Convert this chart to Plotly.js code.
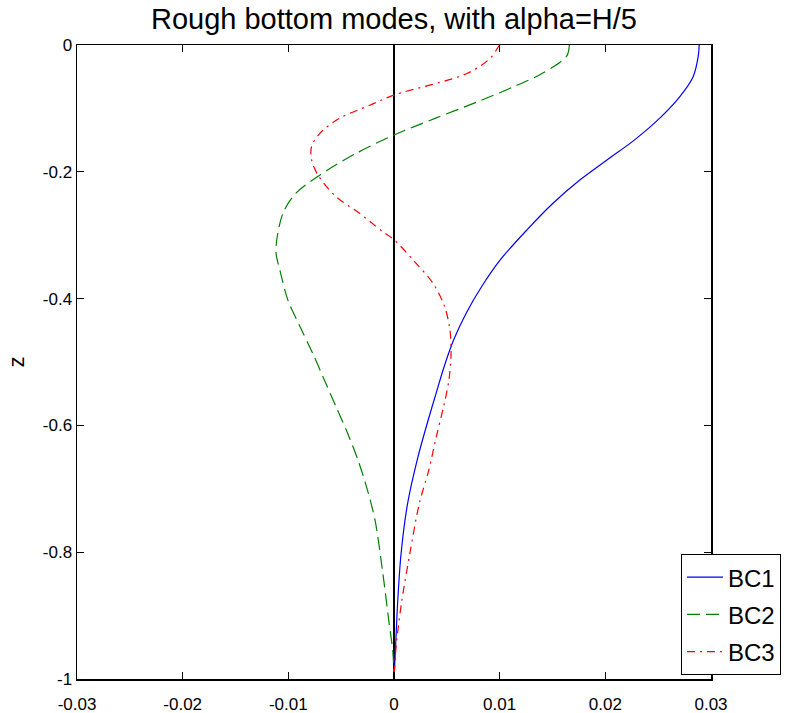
<!DOCTYPE html>
<html>
<head>
<meta charset="utf-8">
<script src="https://cdn.plot.ly/plotly-3.0.1.min.js"></script>
<style>html,body{margin:0;padding:0;background:#fff;}#chart{width:789px;height:713px;}</style>
</head>
<body>
<div id="chart"></div>
<script>
// Series names
const seriesNames = ["BC1", "BC2", "BC3"];

// BC1 (solid blue): depth z and amplitude
const bc1_z = [0, -0.018, -0.05, -0.0815, -0.113, -0.150, -0.181, -0.213, -0.250, -0.292, -0.339, -0.381, -0.423, -0.465, -0.507, -0.549, -0.597, -0.649, -0.723, -0.802, -0.881, -0.949, -1];
const bc1_x = [0.02888, 0.02879, 0.02831, 0.02705, 0.02530, 0.02274, 0.02018, 0.01758, 0.01502, 0.01256, 0.01005, 0.00830, 0.00683, 0.00565, 0.00475, 0.00399, 0.00314, 0.00228, 0.00129, 0.00067, 0.00034, 0.00015, 0];

// BC2 (dashed green)
const bc2_z = [0, -0.016, -0.026, -0.047, -0.066, -0.089, -0.115, -0.142, -0.171, -0.205, -0.234, -0.265, -0.308, -0.330, -0.355, -0.402, -0.444, -0.486, -0.528, -0.570, -0.612, -0.655, -0.697, -0.749, -0.828, -0.907, -0.959, -1];
const bc2_x = [0.0166, 0.0164, 0.0158, 0.0138, 0.0113, 0.0080, 0.0040, 0, -0.0036, -0.0070, -0.0093, -0.0105, -0.0111, -0.01115, -0.0108, -0.01005, -0.0089, -0.0077, -0.0066, -0.0055, -0.0044, -0.0034, -0.0026, -0.0018, -0.0011, -0.0005, -0.0001, 0];

// BC3 (dash-dot red)
const bc3_z = [0, -0.005, -0.021, -0.045, -0.079, -0.095, -0.116, -0.139, -0.160, -0.181, -0.205, -0.239, -0.265, -0.294, -0.307, -0.339, -0.376, -0.413, -0.450, -0.486, -0.528, -0.570, -0.618, -0.670, -0.723, -0.802, -0.881, -0.949, -1];
const bc3_x = [0.0100, 0.0098, 0.0091, 0.0069, 0, -0.0023, -0.0052, -0.0070, -0.0078, -0.0078, -0.0072, -0.0055, -0.0033, -0.0011, 0, 0.0018, 0.0037, 0.0048, 0.0053, 0.0054, 0.0052, 0.0047, 0.0040, 0.0033, 0.0024, 0.0015, 0.0007, 0.0002, 0];

// Axis ticks
const xTickVals = [-0.03, -0.02, -0.01, 0, 0.01, 0.02, 0.03];
const xTickText = ["-0.03", "-0.02", "-0.01", "0", "0.01", "0.02", "0.03"];
const yTickVals = [0, -0.2, -0.4, -0.6, -0.8, -1];
const yTickText = ["0", "-0.2", "-0.4", "-0.6", "-0.8", "-1"];

const FONT = "Liberation Sans, Arial, sans-serif";

const traces = [
  {x: bc1_x, y: bc1_z, name: seriesNames[0], legendgroup: "g1", type: "scatter", mode: "lines",
   line: {color: "#0000ff", width: 1.2, shape: "spline", smoothing: 0.9}},
  {x: bc2_x, y: bc2_z, name: seriesNames[1], legendgroup: "g2", type: "scatter", mode: "lines",
   line: {color: "#008000", width: 1.2, dash: "13px,6px", shape: "spline", smoothing: 0.9}},
  {x: bc3_x, y: bc3_z, name: seriesNames[2], legendgroup: "g3", type: "scatter", mode: "lines",
   line: {color: "#ff0000", width: 1.2, dash: "8px,5px,2px,5px", shape: "spline", smoothing: 0.9}},
  // empty helper trace so the inner-tick overlay axis is drawn
  {x: [], y: [], xaxis: "x2", type: "scatter", mode: "lines", showlegend: false, hoverinfo: "skip"}
];

const layout = {
  width: 789, height: 713,
  paper_bgcolor: "#fff", plot_bgcolor: "#fff",
  font: {family: FONT, color: "#000", size: 17},
  margin: {l: 77, r: 78, t: 45, b: 34, pad: 0, autoexpand: false},
  title: {text: "Rough bottom modes, with alpha=H/5", font: {family: FONT, size: 29, color: "#000"},
          x: 0.5, xref: "paper", xanchor: "center", y: 0.974, yref: "container", yanchor: "middle"},
  showlegend: true,
  legend: {x: 0.9527, y: 0.197, xanchor: "left", yanchor: "top", bgcolor: "#fff",
           bordercolor: "#000", borderwidth: 1, font: {family: FONT, size: 24, color: "#000"},
           tracegroupgap: 3, itemwidth: 36},
  xaxis: {range: [-0.03, 0.03], tickmode: "array", tickvals: xTickVals, ticktext: xTickText,
          ticks: "outside", ticklen: 9, tickwidth: 1, tickcolor: "rgba(255,255,255,0)",
          showline: true, linecolor: "#000", linewidth: 1.5, mirror: true,
          showgrid: false, zeroline: true, zerolinecolor: "#000", zerolinewidth: 1.3,
          tickfont: {family: FONT, size: 17, color: "#000"}, fixedrange: true},
  xaxis2: {range: [-0.03, 0.03], overlaying: "x", anchor: "y", side: "bottom",
           tickmode: "array", tickvals: xTickVals, showticklabels: false,
           ticks: "inside", ticklen: 7, tickwidth: 1.2, tickcolor: "#000", mirror: "ticks",
           showline: false, showgrid: false, zeroline: false, fixedrange: true},
  yaxis: {range: [-1, 0], tickmode: "array", tickvals: yTickVals, ticktext: yTickText,
          ticks: "inside", ticklen: 7, tickwidth: 1.2, tickcolor: "#000",
          showline: true, linecolor: "#000", linewidth: 1.5, mirror: "ticks",
          showgrid: false, zeroline: false,
          tickfont: {family: FONT, size: 17, color: "#000"},
          title: {text: "z", font: {family: FONT, size: 22, color: "#000"}, standoff: 12}, fixedrange: true}
};

Plotly.newPlot("chart", traces, layout, {staticPlot: true, displayModeBar: false});
</script>
</body>
</html>
